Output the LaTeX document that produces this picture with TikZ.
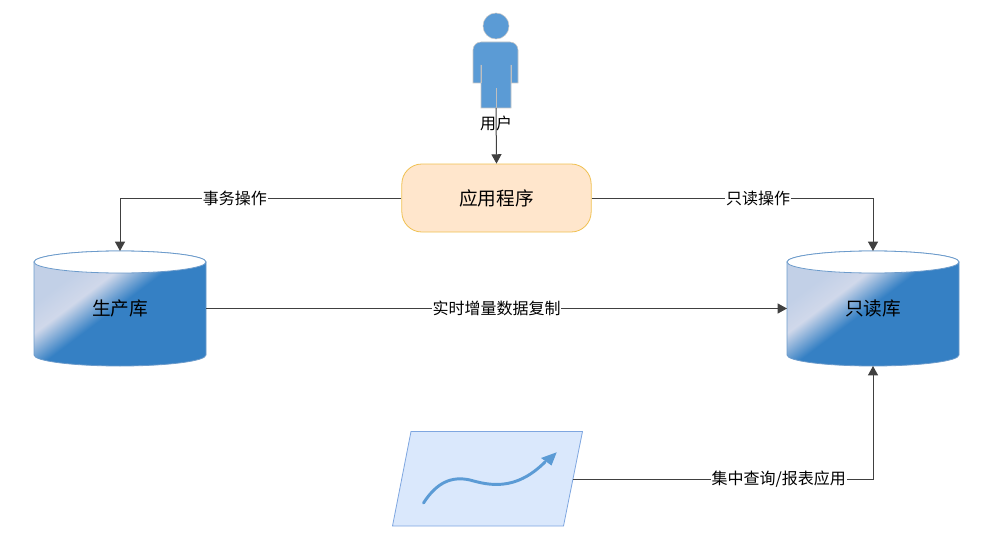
\documentclass[tikz,border=0pt]{standalone}
\usepackage{fontspec}
\setmainfont{Noto Sans CJK SC}
\usetikzlibrary{arrows.meta}
\definecolor{linegray}{HTML}{404040}
\definecolor{userblue}{HTML}{5B9BD5}
\definecolor{dbedge}{HTML}{6C9BCB}
\definecolor{dbblue}{HTML}{3580C4}
\definecolor{dblight}{HTML}{D0D8EA}
\definecolor{dbstart}{HTML}{C2D0E7}
\definecolor{appfill}{HTML}{FFE6CC}
\definecolor{appedge}{HTML}{F0C050}
\definecolor{repfill}{HTML}{DAE8FC}
\definecolor{repedge}{HTML}{7EA6E0}
\pgfdeclarehorizontalshading{dbshade}{100bp}{
  color(0bp)=(dbstart);
  color(30bp)=(dbstart);
  color(38.5bp)=(dblight);
  color(49bp)=(dbblue);
  color(100bp)=(dbblue)}
\tikzset{
  x=0.75pt,y=-0.75pt,
  conn/.style={draw=linegray,line width=0.75pt,-{Triangle[length=7pt,width=7.5pt]}},
  edgelabel/.style={fill=white,inner sep=0.6pt,font=\fontsize{12pt}{14pt}\selectfont,text=black},
  anchorbox/.style={inner sep=0,outer sep=0,minimum width=129pt,minimum height=86.25pt},
  dbtitle/.style={font=\fontsize{14pt}{16pt}\selectfont,text=black},
  dbbody/.style={draw=dbedge,line width=0.6pt,shading=dbshade,shading angle=-53},
  dbtop/.style={draw=dbedge,line width=0.6pt,top color=white,bottom color=white},
}
\newcommand{\dbcyl}[2]{%
  \path[dbbody] (#1-86,262) -- (#1-86,355) arc[start angle=180,end angle=360,x radius=64.5pt,y radius=8.25pt]
    -- (#1+86,262) arc[start angle=0,end angle=180,x radius=64.5pt,y radius=8.25pt] -- cycle;
  \path[dbtop] (#1,262) ellipse[x radius=64.5pt,y radius=8.25pt];
}
\begin{document}
\begin{tikzpicture}
\useasboundingbox (0,0) rectangle (993,542);
% user figure
\fill[userblue,draw=black!22,line width=0.4pt] (496,26) circle[radius=9.75pt];
\path[fill=userblue,draw=black!22,line width=0.4pt]
  (473,50) arc[start angle=180,end angle=90,radius=6pt] -- (510,42) arc[start angle=90,end angle=0,radius=6pt]
  -- (518,83) -- (511,83) -- (511,65) -- (511,108) -- (481,108) -- (481,65) -- (481,83) -- (473,83) -- cycle;
\draw[black!25,line width=0.4pt] (481,65) -- (481,83) (511,65) -- (511,83) (496,88) -- (496,108);
\node[inner sep=0,outer sep=0,minimum width=45pt,minimum height=72pt] (user) at (496,60) {};
% application
\node[draw=appedge,fill=appfill,rounded corners=15pt,line width=0.6pt,minimum width=142pt,minimum height=51pt,inner sep=0,
  font=\fontsize{14pt}{16pt}\selectfont] (app) at (496.5,198) {应用程序};
% databases
\dbcyl{120}{}
\dbcyl{873}{}
\node[anchorbox,dbtitle] (prod) at (120,308.5) {生产库};
\node[anchorbox,dbtitle] (ro) at (873,308.5) {只读库};
% report
\path[draw=repedge,fill=repfill,line width=0.6pt] (411,431.5) -- (582.5,431.5) -- (563.5,526) -- (392.5,526) -- cycle;
\node[inner sep=0,outer sep=0,minimum width=128.25pt,minimum height=71pt] (rep) at (487,479) {};
\draw[userblue,line width=2.2pt,line cap=round] (423.5,503) .. controls (437,482) and (452,476) .. (470,480)
  .. controls (488,485) and (515,492) .. (545,462);
\fill[userblue] (556.7,452.3) -- (551.5,465.5) -- (541,458) -- cycle;
% connectors
\draw[conn] (user.south) -- (app.north);
\node[font=\fontsize{12pt}{14pt}\selectfont] (userlabel) at (496,123) {用户};
\draw[conn] (app.west) -| node[edgelabel,pos=0.296] (l1) {事务操作} (prod.north);
\draw[conn] (app.east) -| node[edgelabel,pos=0.296] (l2) {只读操作} (ro.north);
\draw[conn] (prod.east) -- node[edgelabel] (l3) {实时增量数据复制} (ro.west);
\draw[conn] (rep.east) -| node[edgelabel,pos=0.343] (l4) {集中查询/报表应用} (ro.south);
\end{tikzpicture}
\end{document}
